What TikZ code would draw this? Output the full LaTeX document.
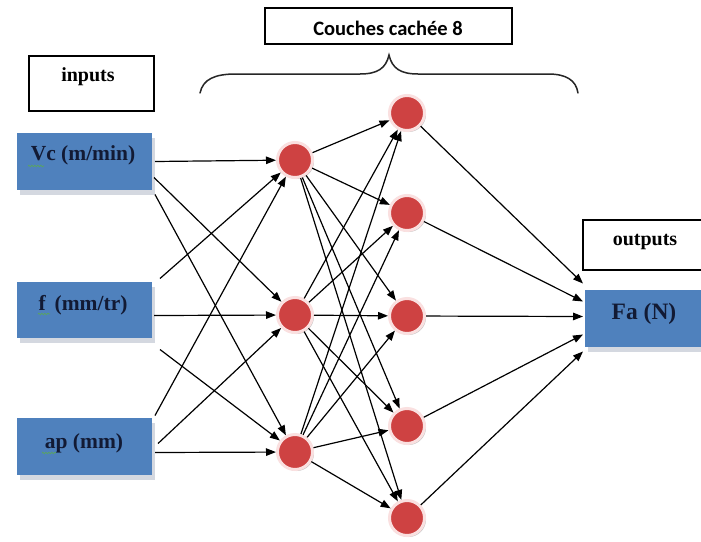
\documentclass[tikz,border=0pt]{standalone}
\usepackage{fontspec}
\setmainfont{Liberation Serif}
\newfontfamily\calib{Carlito}
\usetikzlibrary{arrows.meta,shadows,decorations.pathmorphing}

\definecolor{boxblue}{RGB}{79,129,189}
\definecolor{labelink}{RGB}{18,26,52}
\definecolor{neuronred}{RGB}{206,66,66}
\definecolor{neuronring}{RGB}{250,224,224}
\definecolor{boxshade}{RGB}{212,216,224}
\definecolor{squiggle}{RGB}{90,165,95}

\begin{document}
\begin{tikzpicture}[x=1pt,y=-1pt,
  every node/.style={inner sep=0pt,outer sep=0pt},
  framebox/.style={draw=black,line width=1.4pt,fill=white,rectangle},
  databox/.style={fill=boxblue,rectangle,
    drop shadow={shadow xshift=3pt,shadow yshift=-5pt,fill=boxshade,opacity=1}},
  boxtext/.style={anchor=base,text=labelink,font=\bfseries\fontsize{21.5}{24}\selectfont},
  frametext/.style={anchor=base,text=black,font=\bfseries\fontsize{20}{24}\selectfont},
  neuron/.style={circle,minimum size=35pt,fill=neuronred,draw=neuronring,
    line width=3pt,outer sep=1.5pt,
    drop shadow={shadow xshift=1.5pt,shadow yshift=-1.5pt,fill=black!22,opacity=1}},
  conn/.style={-{Triangle[length=10pt,width=7.5pt]},line width=1.2pt,black},
  bracestyle/.style={line width=1.5pt,draw=black!85,line cap=round},
  spellmark/.style={draw=squiggle,line width=0.7pt,
    decorate,decoration={snake,amplitude=0.8pt,segment length=3pt}}
]
\useasboundingbox (0,0) rectangle (701,541);
\clip (0,0) rectangle (701,541);
\fill[white] (0,0) rectangle (701,541);

% ---- title frames ----
\node[framebox,minimum width=125pt,minimum height=55pt] (inbox) at (91.5,83.5) {};
\node[frametext] (intxt) at (88,81) {inputs};

\node[framebox,minimum width=247pt,minimum height=36pt] (hidbox) at (388.5,26) {};
\node[anchor=base,font=\calib\bfseries\fontsize{20.5}{24}\selectfont] (hidtxt) at (388,35) {Couches cachée 8};

\node[framebox,minimum width=130pt,minimum height=50pt,anchor=north west] (outbox) at (583,220) {};
\node[frametext] (outtxt) at (645,245) {outputs};

% ---- brace over the hidden layers ----
\draw[bracestyle] (200,93) .. controls (203,79) and (215,74) .. (236,74)
  -- (360,74) .. controls (378,74) and (386,68) .. (389,55)
  .. controls (392,68) and (400,74) .. (418,74)
  -- (548,74) .. controls (566,74) and (576,80) .. (578,93);

% ---- input boxes ----
\node[databox,minimum width=135pt,minimum height=57pt] (vc) at (84.5,161.5) {};
\node[boxtext] (vctxt) at (83,160) {Vc (m/min)};
\node[databox,minimum width=135pt,minimum height=56pt] (f) at (84.5,309.5) {};
\node[boxtext] (ftxt) at (83,310) {f\, (mm/tr)};
\node[databox,minimum width=135pt,minimum height=57pt] (ap) at (84.5,446.5) {};
\node[boxtext] (aptxt) at (84,448) {ap (mm)};

\draw[spellmark] (28,166) -- (44,166);
\draw[spellmark] (38,314) -- (50,314);
\draw[spellmark] (42,453) -- (56,453);

% ---- output box ----
\node[databox,minimum width=125pt,minimum height=57pt,anchor=north west] (fa) at (585,290) {};
\node[boxtext,font=\bfseries\fontsize{23.5}{26}\selectfont] (fatxt) at (644,319) {Fa (N)};

% ---- neurons ----
\node[neuron] (h1a) at (295,160) {};
\node[neuron] (h1b) at (295,315) {};
\node[neuron] (h1c) at (295,452) {};

\node[neuron] (h2a) at (407,113) {};
\node[neuron] (h2b) at (407,213) {};
\node[neuron] (h2c) at (407,316) {};
\node[neuron] (h2d) at (407,426) {};
\node[neuron] (h2e) at (407,518) {};

% ---- inputs to first hidden layer ----
\draw[conn] ([xshift=3pt]vc.east) -- (h1a);
\draw[conn] ([xshift=2pt,yshift=-16pt]vc.east) -- (h1b);
\draw[conn] ([xshift=3pt,yshift=-33pt]vc.east) -- (h1c);

\draw[conn] ([xshift=8pt,yshift=31pt]f.east) -- (h1a);
\draw[conn] ([xshift=2pt,yshift=-6pt]f.east) -- (h1b);
\draw[conn] ([xshift=8pt,yshift=-40pt]f.east) -- (h1c);

\draw[conn] ([xshift=3pt,yshift=31pt]ap.east) -- (h1a);
\draw[conn] ([xshift=6pt,yshift=3pt]ap.east) -- (h1b);
\draw[conn] ([xshift=3pt,yshift=-6pt]ap.east) -- (h1c);

% ---- first hidden layer to second hidden layer ----
\foreach \s in {h1a,h1b,h1c}
  \foreach \t in {h2a,h2b,h2c,h2d,h2e}
    \draw[conn] (\s) -- (\t);

% ---- second hidden layer to output ----
\draw[conn] (h2a) -- ([xshift=-2pt,yshift=35pt]fa.west);
\draw[conn] (h2b) -- ([xshift=-2pt,yshift=17pt]fa.west);
\draw[conn] (h2c) -- ([xshift=-2pt,yshift=2pt]fa.west);
\draw[conn] (h2d) -- ([xshift=-2pt,yshift=-16pt]fa.west);
\draw[conn] (h2e) -- ([xshift=-2pt,yshift=-33pt]fa.west);
\end{tikzpicture}
\end{document}
